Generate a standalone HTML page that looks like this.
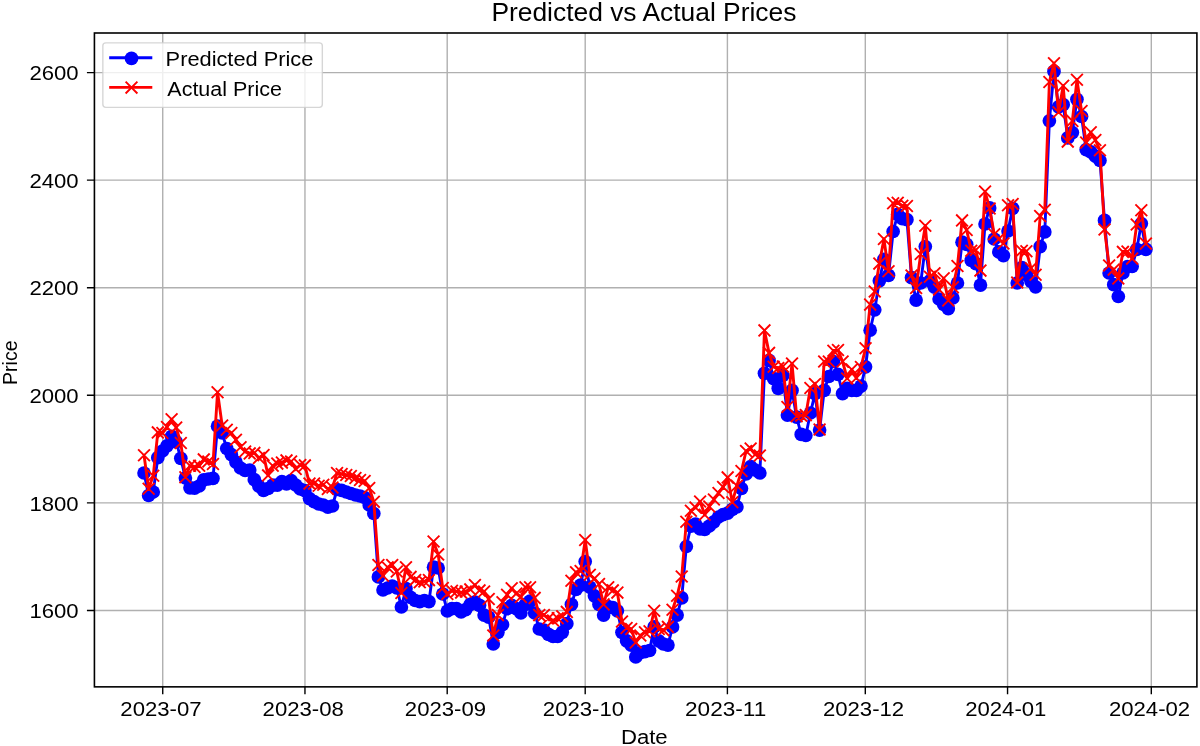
<!DOCTYPE html><html><head><meta charset="utf-8"><style>html,body{margin:0;padding:0;background:#fff;}svg{display:block;will-change:transform;}text{font-family:"Liberation Sans",sans-serif;fill:#000;}</style></head><body>
<svg width="1200" height="746" viewBox="0 0 1200 746">
<rect width="1200" height="746" fill="#fff"/>
<path d="M162.73 33V686.85M304.96 33V686.85M447.2 33V686.85M585.2 33V686.85M727.4 33V686.85M865.3 33V686.85M1007.55 33V686.85M1151.3 33V686.85M94.42 610.46H1196.9M94.42 502.89H1196.9M94.42 395.32H1196.9M94.42 287.74H1196.9M94.42 180.17H1196.9M94.42 72.6H1196.9" stroke="#b0b0b0" stroke-width="1.4" fill="none"/>
<defs><clipPath id="c"><rect x="94.42" y="33" width="1102.48" height="653.85"/></clipPath></defs>
<g clip-path="url(#c)">
<path d="M144.03 473 L148.63 495.5 L153.22 492 L157.82 457.7 L162.41 451 L167.01 445.8 L171.6 436.4 L176.2 441.8 L180.8 458.3 L185.39 478 L189.99 487.8 L194.58 488.2 L199.18 486 L203.77 479.8 L208.37 479 L212.97 478.3 L217.56 426.2 L222.16 433 L226.75 448.5 L231.35 454.7 L235.94 462.1 L240.54 468 L245.14 470.5 L249.73 470 L254.33 479.7 L258.92 486.2 L263.52 490.5 L268.11 488.5 L272.71 485.1 L277.31 485.1 L281.9 481.5 L286.5 484 L291.09 480.6 L295.69 485 L300.28 489 L304.88 490.7 L309.48 498.6 L314.07 501.6 L318.67 504 L323.26 505 L327.86 507.2 L332.45 506 L337.05 489.5 L341.65 490.4 L346.24 492 L350.84 493.5 L355.43 495 L360.03 496 L364.62 497.5 L369.22 505 L373.81 513.5 L378.41 576.9 L383.01 590 L387.6 588 L392.2 586 L396.79 588 L401.39 607 L405.98 588.7 L410.58 597.3 L415.18 600.5 L419.77 601.6 L424.37 600.5 L428.96 601.6 L433.56 567.2 L438.15 568 L442.75 594 L447.35 611 L451.94 608.7 L456.54 608.7 L461.13 611.9 L465.73 609.7 L470.32 604.4 L474.92 602.2 L479.52 605.4 L484.11 615.1 L488.71 617.2 L493.3 644 L497.9 632.3 L502.49 624.7 L507.09 608.7 L511.69 605.4 L516.28 608.7 L520.88 613 L525.47 604.4 L530.07 601.2 L534.66 613 L539.26 629 L543.86 630.1 L548.45 634.4 L553.05 636.5 L557.64 636.5 L562.24 632.3 L566.83 623.7 L571.43 604.4 L576.03 589.4 L580.62 585.1 L585.22 561.5 L589.81 587.2 L594.41 595.8 L599 604.4 L603.6 615.1 L608.2 606.5 L612.79 607.6 L617.39 610.8 L621.98 632.3 L626.58 640.8 L631.17 645.1 L635.77 656.9 L640.37 652.6 L644.96 651.6 L649.56 650.5 L654.15 626.9 L658.75 640.8 L663.34 644 L667.94 645.1 L672.54 626.9 L677.13 615.1 L681.73 597.9 L686.32 546.5 L690.92 526.1 L695.51 524 L700.11 529 L704.71 529.3 L709.3 526 L713.9 521.8 L718.49 517 L723.09 514.6 L727.68 513.2 L732.28 509.4 L736.88 506.8 L741.47 488.5 L746.07 474 L750.66 466.5 L755.26 470 L759.85 473 L764.45 373.3 L769.05 360.4 L773.64 378.6 L778.24 388.3 L782.83 375.4 L787.43 415.1 L792.02 390.4 L796.62 417.2 L801.22 434.4 L805.81 435.5 L810.41 413 L815 393.6 L819.6 430.1 L824.19 390.4 L828.79 376.5 L833.38 361.5 L837.98 374.3 L842.58 393.6 L847.17 388.3 L851.77 390.4 L856.36 390.4 L860.96 386.1 L865.55 366.8 L870.15 330.2 L874.75 309.8 L879.34 280.8 L883.94 259.4 L888.53 275.4 L893.13 231.5 L897.72 214.3 L902.32 218.6 L906.92 219.7 L911.51 277.6 L916.11 300.1 L920.7 283 L925.3 246.5 L929.89 280.8 L934.49 287.2 L939.09 299 L943.68 304.4 L948.28 308.7 L952.87 298 L957.47 283 L962.06 242.2 L966.66 244.3 L971.26 260.4 L975.85 263.6 L980.45 285.1 L985.04 224 L989.64 207.9 L994.23 239 L998.83 251.9 L1003.43 255.6 L1008.02 231 L1012.62 208.3 L1017.21 283 L1021.81 267.6 L1026.4 274.6 L1031 281.5 L1035.6 286.8 L1040.19 246.7 L1044.79 231.9 L1049.38 120.8 L1053.98 71.4 L1058.57 106.8 L1063.17 104.7 L1067.77 137.9 L1072.36 132.6 L1076.96 99.3 L1081.55 116.5 L1086.15 149.7 L1090.74 151.9 L1095.34 156.2 L1099.94 160.5 L1104.53 220.4 L1109.13 273 L1113.72 284.7 L1118.32 296.5 L1122.91 273 L1127.51 266.5 L1132.11 266.5 L1136.7 249.4 L1141.3 223.6 L1145.89 249.4" stroke="#0000ff" stroke-width="2.9" fill="none" stroke-linejoin="round" stroke-linecap="square"/>
<g fill="#0000ff"><circle cx="144.03" cy="473" r="6.85"/><circle cx="148.63" cy="495.5" r="6.85"/><circle cx="153.22" cy="492" r="6.85"/><circle cx="157.82" cy="457.7" r="6.85"/><circle cx="162.41" cy="451" r="6.85"/><circle cx="167.01" cy="445.8" r="6.85"/><circle cx="171.6" cy="436.4" r="6.85"/><circle cx="176.2" cy="441.8" r="6.85"/><circle cx="180.8" cy="458.3" r="6.85"/><circle cx="185.39" cy="478" r="6.85"/><circle cx="189.99" cy="487.8" r="6.85"/><circle cx="194.58" cy="488.2" r="6.85"/><circle cx="199.18" cy="486" r="6.85"/><circle cx="203.77" cy="479.8" r="6.85"/><circle cx="208.37" cy="479" r="6.85"/><circle cx="212.97" cy="478.3" r="6.85"/><circle cx="217.56" cy="426.2" r="6.85"/><circle cx="222.16" cy="433" r="6.85"/><circle cx="226.75" cy="448.5" r="6.85"/><circle cx="231.35" cy="454.7" r="6.85"/><circle cx="235.94" cy="462.1" r="6.85"/><circle cx="240.54" cy="468" r="6.85"/><circle cx="245.14" cy="470.5" r="6.85"/><circle cx="249.73" cy="470" r="6.85"/><circle cx="254.33" cy="479.7" r="6.85"/><circle cx="258.92" cy="486.2" r="6.85"/><circle cx="263.52" cy="490.5" r="6.85"/><circle cx="268.11" cy="488.5" r="6.85"/><circle cx="272.71" cy="485.1" r="6.85"/><circle cx="277.31" cy="485.1" r="6.85"/><circle cx="281.9" cy="481.5" r="6.85"/><circle cx="286.5" cy="484" r="6.85"/><circle cx="291.09" cy="480.6" r="6.85"/><circle cx="295.69" cy="485" r="6.85"/><circle cx="300.28" cy="489" r="6.85"/><circle cx="304.88" cy="490.7" r="6.85"/><circle cx="309.48" cy="498.6" r="6.85"/><circle cx="314.07" cy="501.6" r="6.85"/><circle cx="318.67" cy="504" r="6.85"/><circle cx="323.26" cy="505" r="6.85"/><circle cx="327.86" cy="507.2" r="6.85"/><circle cx="332.45" cy="506" r="6.85"/><circle cx="337.05" cy="489.5" r="6.85"/><circle cx="341.65" cy="490.4" r="6.85"/><circle cx="346.24" cy="492" r="6.85"/><circle cx="350.84" cy="493.5" r="6.85"/><circle cx="355.43" cy="495" r="6.85"/><circle cx="360.03" cy="496" r="6.85"/><circle cx="364.62" cy="497.5" r="6.85"/><circle cx="369.22" cy="505" r="6.85"/><circle cx="373.81" cy="513.5" r="6.85"/><circle cx="378.41" cy="576.9" r="6.85"/><circle cx="383.01" cy="590" r="6.85"/><circle cx="387.6" cy="588" r="6.85"/><circle cx="392.2" cy="586" r="6.85"/><circle cx="396.79" cy="588" r="6.85"/><circle cx="401.39" cy="607" r="6.85"/><circle cx="405.98" cy="588.7" r="6.85"/><circle cx="410.58" cy="597.3" r="6.85"/><circle cx="415.18" cy="600.5" r="6.85"/><circle cx="419.77" cy="601.6" r="6.85"/><circle cx="424.37" cy="600.5" r="6.85"/><circle cx="428.96" cy="601.6" r="6.85"/><circle cx="433.56" cy="567.2" r="6.85"/><circle cx="438.15" cy="568" r="6.85"/><circle cx="442.75" cy="594" r="6.85"/><circle cx="447.35" cy="611" r="6.85"/><circle cx="451.94" cy="608.7" r="6.85"/><circle cx="456.54" cy="608.7" r="6.85"/><circle cx="461.13" cy="611.9" r="6.85"/><circle cx="465.73" cy="609.7" r="6.85"/><circle cx="470.32" cy="604.4" r="6.85"/><circle cx="474.92" cy="602.2" r="6.85"/><circle cx="479.52" cy="605.4" r="6.85"/><circle cx="484.11" cy="615.1" r="6.85"/><circle cx="488.71" cy="617.2" r="6.85"/><circle cx="493.3" cy="644" r="6.85"/><circle cx="497.9" cy="632.3" r="6.85"/><circle cx="502.49" cy="624.7" r="6.85"/><circle cx="507.09" cy="608.7" r="6.85"/><circle cx="511.69" cy="605.4" r="6.85"/><circle cx="516.28" cy="608.7" r="6.85"/><circle cx="520.88" cy="613" r="6.85"/><circle cx="525.47" cy="604.4" r="6.85"/><circle cx="530.07" cy="601.2" r="6.85"/><circle cx="534.66" cy="613" r="6.85"/><circle cx="539.26" cy="629" r="6.85"/><circle cx="543.86" cy="630.1" r="6.85"/><circle cx="548.45" cy="634.4" r="6.85"/><circle cx="553.05" cy="636.5" r="6.85"/><circle cx="557.64" cy="636.5" r="6.85"/><circle cx="562.24" cy="632.3" r="6.85"/><circle cx="566.83" cy="623.7" r="6.85"/><circle cx="571.43" cy="604.4" r="6.85"/><circle cx="576.03" cy="589.4" r="6.85"/><circle cx="580.62" cy="585.1" r="6.85"/><circle cx="585.22" cy="561.5" r="6.85"/><circle cx="589.81" cy="587.2" r="6.85"/><circle cx="594.41" cy="595.8" r="6.85"/><circle cx="599" cy="604.4" r="6.85"/><circle cx="603.6" cy="615.1" r="6.85"/><circle cx="608.2" cy="606.5" r="6.85"/><circle cx="612.79" cy="607.6" r="6.85"/><circle cx="617.39" cy="610.8" r="6.85"/><circle cx="621.98" cy="632.3" r="6.85"/><circle cx="626.58" cy="640.8" r="6.85"/><circle cx="631.17" cy="645.1" r="6.85"/><circle cx="635.77" cy="656.9" r="6.85"/><circle cx="640.37" cy="652.6" r="6.85"/><circle cx="644.96" cy="651.6" r="6.85"/><circle cx="649.56" cy="650.5" r="6.85"/><circle cx="654.15" cy="626.9" r="6.85"/><circle cx="658.75" cy="640.8" r="6.85"/><circle cx="663.34" cy="644" r="6.85"/><circle cx="667.94" cy="645.1" r="6.85"/><circle cx="672.54" cy="626.9" r="6.85"/><circle cx="677.13" cy="615.1" r="6.85"/><circle cx="681.73" cy="597.9" r="6.85"/><circle cx="686.32" cy="546.5" r="6.85"/><circle cx="690.92" cy="526.1" r="6.85"/><circle cx="695.51" cy="524" r="6.85"/><circle cx="700.11" cy="529" r="6.85"/><circle cx="704.71" cy="529.3" r="6.85"/><circle cx="709.3" cy="526" r="6.85"/><circle cx="713.9" cy="521.8" r="6.85"/><circle cx="718.49" cy="517" r="6.85"/><circle cx="723.09" cy="514.6" r="6.85"/><circle cx="727.68" cy="513.2" r="6.85"/><circle cx="732.28" cy="509.4" r="6.85"/><circle cx="736.88" cy="506.8" r="6.85"/><circle cx="741.47" cy="488.5" r="6.85"/><circle cx="746.07" cy="474" r="6.85"/><circle cx="750.66" cy="466.5" r="6.85"/><circle cx="755.26" cy="470" r="6.85"/><circle cx="759.85" cy="473" r="6.85"/><circle cx="764.45" cy="373.3" r="6.85"/><circle cx="769.05" cy="360.4" r="6.85"/><circle cx="773.64" cy="378.6" r="6.85"/><circle cx="778.24" cy="388.3" r="6.85"/><circle cx="782.83" cy="375.4" r="6.85"/><circle cx="787.43" cy="415.1" r="6.85"/><circle cx="792.02" cy="390.4" r="6.85"/><circle cx="796.62" cy="417.2" r="6.85"/><circle cx="801.22" cy="434.4" r="6.85"/><circle cx="805.81" cy="435.5" r="6.85"/><circle cx="810.41" cy="413" r="6.85"/><circle cx="815" cy="393.6" r="6.85"/><circle cx="819.6" cy="430.1" r="6.85"/><circle cx="824.19" cy="390.4" r="6.85"/><circle cx="828.79" cy="376.5" r="6.85"/><circle cx="833.38" cy="361.5" r="6.85"/><circle cx="837.98" cy="374.3" r="6.85"/><circle cx="842.58" cy="393.6" r="6.85"/><circle cx="847.17" cy="388.3" r="6.85"/><circle cx="851.77" cy="390.4" r="6.85"/><circle cx="856.36" cy="390.4" r="6.85"/><circle cx="860.96" cy="386.1" r="6.85"/><circle cx="865.55" cy="366.8" r="6.85"/><circle cx="870.15" cy="330.2" r="6.85"/><circle cx="874.75" cy="309.8" r="6.85"/><circle cx="879.34" cy="280.8" r="6.85"/><circle cx="883.94" cy="259.4" r="6.85"/><circle cx="888.53" cy="275.4" r="6.85"/><circle cx="893.13" cy="231.5" r="6.85"/><circle cx="897.72" cy="214.3" r="6.85"/><circle cx="902.32" cy="218.6" r="6.85"/><circle cx="906.92" cy="219.7" r="6.85"/><circle cx="911.51" cy="277.6" r="6.85"/><circle cx="916.11" cy="300.1" r="6.85"/><circle cx="920.7" cy="283" r="6.85"/><circle cx="925.3" cy="246.5" r="6.85"/><circle cx="929.89" cy="280.8" r="6.85"/><circle cx="934.49" cy="287.2" r="6.85"/><circle cx="939.09" cy="299" r="6.85"/><circle cx="943.68" cy="304.4" r="6.85"/><circle cx="948.28" cy="308.7" r="6.85"/><circle cx="952.87" cy="298" r="6.85"/><circle cx="957.47" cy="283" r="6.85"/><circle cx="962.06" cy="242.2" r="6.85"/><circle cx="966.66" cy="244.3" r="6.85"/><circle cx="971.26" cy="260.4" r="6.85"/><circle cx="975.85" cy="263.6" r="6.85"/><circle cx="980.45" cy="285.1" r="6.85"/><circle cx="985.04" cy="224" r="6.85"/><circle cx="989.64" cy="207.9" r="6.85"/><circle cx="994.23" cy="239" r="6.85"/><circle cx="998.83" cy="251.9" r="6.85"/><circle cx="1003.43" cy="255.6" r="6.85"/><circle cx="1008.02" cy="231" r="6.85"/><circle cx="1012.62" cy="208.3" r="6.85"/><circle cx="1017.21" cy="283" r="6.85"/><circle cx="1021.81" cy="267.6" r="6.85"/><circle cx="1026.4" cy="274.6" r="6.85"/><circle cx="1031" cy="281.5" r="6.85"/><circle cx="1035.6" cy="286.8" r="6.85"/><circle cx="1040.19" cy="246.7" r="6.85"/><circle cx="1044.79" cy="231.9" r="6.85"/><circle cx="1049.38" cy="120.8" r="6.85"/><circle cx="1053.98" cy="71.4" r="6.85"/><circle cx="1058.57" cy="106.8" r="6.85"/><circle cx="1063.17" cy="104.7" r="6.85"/><circle cx="1067.77" cy="137.9" r="6.85"/><circle cx="1072.36" cy="132.6" r="6.85"/><circle cx="1076.96" cy="99.3" r="6.85"/><circle cx="1081.55" cy="116.5" r="6.85"/><circle cx="1086.15" cy="149.7" r="6.85"/><circle cx="1090.74" cy="151.9" r="6.85"/><circle cx="1095.34" cy="156.2" r="6.85"/><circle cx="1099.94" cy="160.5" r="6.85"/><circle cx="1104.53" cy="220.4" r="6.85"/><circle cx="1109.13" cy="273" r="6.85"/><circle cx="1113.72" cy="284.7" r="6.85"/><circle cx="1118.32" cy="296.5" r="6.85"/><circle cx="1122.91" cy="273" r="6.85"/><circle cx="1127.51" cy="266.5" r="6.85"/><circle cx="1132.11" cy="266.5" r="6.85"/><circle cx="1136.7" cy="249.4" r="6.85"/><circle cx="1141.3" cy="223.6" r="6.85"/><circle cx="1145.89" cy="249.4" r="6.85"/></g>
<path d="M144.03 455.3 L148.63 488.7 L153.22 475.8 L157.82 432.4 L162.41 433 L167.01 427 L171.6 419.3 L176.2 427.6 L180.8 443 L185.39 477.3 L189.99 465.8 L194.58 466.9 L199.18 465.8 L203.77 459.4 L208.37 461.5 L212.97 464 L217.56 392.2 L222.16 425.5 L226.75 429.8 L231.35 433 L235.94 439.8 L240.54 447.3 L245.14 451.5 L249.73 453.4 L254.33 452.9 L258.92 458 L263.52 455.1 L268.11 475.4 L272.71 465.8 L277.31 463.6 L281.9 462.6 L286.5 460.4 L291.09 461.5 L295.69 469 L300.28 465 L304.88 465.4 L309.48 483.6 L314.07 483.6 L318.67 485.7 L323.26 484.7 L327.86 489 L332.45 487.5 L337.05 473 L341.65 474 L346.24 475 L350.84 476 L355.43 478 L360.03 480 L364.62 481 L369.22 488 L373.81 501.8 L378.41 565 L383.01 575.8 L387.6 567.2 L392.2 565.1 L396.79 571.5 L401.39 593 L405.98 567.2 L410.58 576.9 L415.18 580.1 L419.77 582.3 L424.37 581.5 L428.96 580.1 L433.56 541.5 L438.15 554.4 L442.75 588 L447.35 594 L451.94 590.7 L456.54 591.5 L461.13 592.6 L465.73 591.5 L470.32 589.4 L474.92 585.1 L479.52 590.4 L484.11 591.5 L488.71 599 L493.3 635.5 L497.9 615.1 L502.49 602.2 L507.09 594.7 L511.69 588.3 L516.28 593.6 L520.88 596.9 L525.47 587.2 L530.07 587.2 L534.66 597.9 L539.26 615.1 L543.86 615.1 L548.45 618.3 L553.05 620.5 L557.64 618.3 L562.24 616.2 L566.83 611.9 L571.43 580.8 L576.03 572.2 L580.62 571.1 L585.22 540 L589.81 574.8 L594.41 578.6 L599 584 L603.6 604.4 L608.2 587.2 L612.79 590.4 L617.39 592.6 L621.98 621.5 L626.58 628 L631.17 629 L635.77 642.5 L640.37 635.5 L644.96 632.3 L649.56 631.2 L654.15 610.8 L658.75 629 L663.34 630.1 L667.94 626.9 L672.54 609.7 L677.13 595.8 L681.73 576.5 L686.32 521.8 L690.92 510.8 L695.51 507.5 L700.11 501.5 L704.71 514.7 L709.3 506.5 L713.9 499.5 L718.49 493 L723.09 487 L727.68 477.4 L732.28 502.3 L736.88 485.7 L741.47 471 L746.07 451 L750.66 448.6 L755.26 454.5 L759.85 455.5 L764.45 330.4 L769.05 352.9 L773.64 366.8 L778.24 368 L782.83 366.5 L787.43 407 L792.02 363.5 L796.62 416.2 L801.22 415.6 L805.81 415.1 L810.41 388 L815 384 L819.6 429.5 L824.19 361.5 L828.79 361.5 L833.38 350.7 L837.98 350 L842.58 361.5 L847.17 378.5 L851.77 369.5 L856.36 378 L860.96 367 L865.55 348.3 L870.15 304.6 L874.75 291.5 L879.34 263.6 L883.94 239 L888.53 271.2 L893.13 203.2 L897.72 202.8 L902.32 205.7 L906.92 206 L911.51 275.5 L916.11 288 L920.7 254 L925.3 225.8 L929.89 276.8 L934.49 273.3 L939.09 289.6 L943.68 278.3 L948.28 300.4 L952.87 287.2 L957.47 266 L962.06 220.4 L966.66 230 L971.26 250.7 L975.85 250 L980.45 270.6 L985.04 191.6 L989.64 208.5 L994.23 234.3 L998.83 238.9 L1003.43 243.5 L1008.02 205.3 L1012.62 204 L1017.21 282.5 L1021.81 250.8 L1026.4 251.2 L1031 268.2 L1035.6 274.8 L1040.19 216.1 L1044.79 209.8 L1049.38 82 L1053.98 63.2 L1058.57 112.3 L1063.17 85.7 L1067.77 141.6 L1072.36 120.9 L1076.96 79.8 L1081.55 111 L1086.15 142.6 L1090.74 132.2 L1095.34 140 L1099.94 150.2 L1104.53 229.5 L1109.13 265.5 L1113.72 269.6 L1118.32 278.4 L1122.91 251.9 L1127.51 251.6 L1132.11 258.6 L1136.7 224.5 L1141.3 210.3 L1145.89 243.6" stroke="#ff0000" stroke-width="2.9" fill="none" stroke-linejoin="round" stroke-linecap="square"/>
<path d="M138.13 449.4l11.8 11.8M138.13 461.2l11.8 -11.8M142.73 482.8l11.8 11.8M142.73 494.6l11.8 -11.8M147.32 469.9l11.8 11.8M147.32 481.7l11.8 -11.8M151.92 426.5l11.8 11.8M151.92 438.3l11.8 -11.8M156.51 427.1l11.8 11.8M156.51 438.9l11.8 -11.8M161.11 421.1l11.8 11.8M161.11 432.9l11.8 -11.8M165.7 413.4l11.8 11.8M165.7 425.2l11.8 -11.8M170.3 421.7l11.8 11.8M170.3 433.5l11.8 -11.8M174.9 437.1l11.8 11.8M174.9 448.9l11.8 -11.8M179.49 471.4l11.8 11.8M179.49 483.2l11.8 -11.8M184.09 459.9l11.8 11.8M184.09 471.7l11.8 -11.8M188.68 461l11.8 11.8M188.68 472.8l11.8 -11.8M193.28 459.9l11.8 11.8M193.28 471.7l11.8 -11.8M197.87 453.5l11.8 11.8M197.87 465.3l11.8 -11.8M202.47 455.6l11.8 11.8M202.47 467.4l11.8 -11.8M207.07 458.1l11.8 11.8M207.07 469.9l11.8 -11.8M211.66 386.3l11.8 11.8M211.66 398.1l11.8 -11.8M216.26 419.6l11.8 11.8M216.26 431.4l11.8 -11.8M220.85 423.9l11.8 11.8M220.85 435.7l11.8 -11.8M225.45 427.1l11.8 11.8M225.45 438.9l11.8 -11.8M230.04 433.9l11.8 11.8M230.04 445.7l11.8 -11.8M234.64 441.4l11.8 11.8M234.64 453.2l11.8 -11.8M239.24 445.6l11.8 11.8M239.24 457.4l11.8 -11.8M243.83 447.5l11.8 11.8M243.83 459.3l11.8 -11.8M248.43 447l11.8 11.8M248.43 458.8l11.8 -11.8M253.02 452.1l11.8 11.8M253.02 463.9l11.8 -11.8M257.62 449.2l11.8 11.8M257.62 461l11.8 -11.8M262.21 469.5l11.8 11.8M262.21 481.3l11.8 -11.8M266.81 459.9l11.8 11.8M266.81 471.7l11.8 -11.8M271.41 457.7l11.8 11.8M271.41 469.5l11.8 -11.8M276 456.7l11.8 11.8M276 468.5l11.8 -11.8M280.6 454.5l11.8 11.8M280.6 466.3l11.8 -11.8M285.19 455.6l11.8 11.8M285.19 467.4l11.8 -11.8M289.79 463.1l11.8 11.8M289.79 474.9l11.8 -11.8M294.38 459.1l11.8 11.8M294.38 470.9l11.8 -11.8M298.98 459.5l11.8 11.8M298.98 471.3l11.8 -11.8M303.58 477.7l11.8 11.8M303.58 489.5l11.8 -11.8M308.17 477.7l11.8 11.8M308.17 489.5l11.8 -11.8M312.77 479.8l11.8 11.8M312.77 491.6l11.8 -11.8M317.36 478.8l11.8 11.8M317.36 490.6l11.8 -11.8M321.96 483.1l11.8 11.8M321.96 494.9l11.8 -11.8M326.55 481.6l11.8 11.8M326.55 493.4l11.8 -11.8M331.15 467.1l11.8 11.8M331.15 478.9l11.8 -11.8M335.75 468.1l11.8 11.8M335.75 479.9l11.8 -11.8M340.34 469.1l11.8 11.8M340.34 480.9l11.8 -11.8M344.94 470.1l11.8 11.8M344.94 481.9l11.8 -11.8M349.53 472.1l11.8 11.8M349.53 483.9l11.8 -11.8M354.13 474.1l11.8 11.8M354.13 485.9l11.8 -11.8M358.72 475.1l11.8 11.8M358.72 486.9l11.8 -11.8M363.32 482.1l11.8 11.8M363.32 493.9l11.8 -11.8M367.92 495.9l11.8 11.8M367.92 507.7l11.8 -11.8M372.51 559.1l11.8 11.8M372.51 570.9l11.8 -11.8M377.11 569.9l11.8 11.8M377.11 581.7l11.8 -11.8M381.7 561.3l11.8 11.8M381.7 573.1l11.8 -11.8M386.3 559.2l11.8 11.8M386.3 571l11.8 -11.8M390.89 565.6l11.8 11.8M390.89 577.4l11.8 -11.8M395.49 587.1l11.8 11.8M395.49 598.9l11.8 -11.8M400.08 561.3l11.8 11.8M400.08 573.1l11.8 -11.8M404.68 571l11.8 11.8M404.68 582.8l11.8 -11.8M409.28 574.2l11.8 11.8M409.28 586l11.8 -11.8M413.87 576.4l11.8 11.8M413.87 588.2l11.8 -11.8M418.47 575.6l11.8 11.8M418.47 587.4l11.8 -11.8M423.06 574.2l11.8 11.8M423.06 586l11.8 -11.8M427.66 535.6l11.8 11.8M427.66 547.4l11.8 -11.8M432.25 548.5l11.8 11.8M432.25 560.3l11.8 -11.8M436.85 582.1l11.8 11.8M436.85 593.9l11.8 -11.8M441.45 588.1l11.8 11.8M441.45 599.9l11.8 -11.8M446.04 584.8l11.8 11.8M446.04 596.6l11.8 -11.8M450.64 585.6l11.8 11.8M450.64 597.4l11.8 -11.8M455.23 586.7l11.8 11.8M455.23 598.5l11.8 -11.8M459.83 585.6l11.8 11.8M459.83 597.4l11.8 -11.8M464.42 583.5l11.8 11.8M464.42 595.3l11.8 -11.8M469.02 579.2l11.8 11.8M469.02 591l11.8 -11.8M473.62 584.5l11.8 11.8M473.62 596.3l11.8 -11.8M478.21 585.6l11.8 11.8M478.21 597.4l11.8 -11.8M482.81 593.1l11.8 11.8M482.81 604.9l11.8 -11.8M487.4 629.6l11.8 11.8M487.4 641.4l11.8 -11.8M492 609.2l11.8 11.8M492 621l11.8 -11.8M496.59 596.3l11.8 11.8M496.59 608.1l11.8 -11.8M501.19 588.8l11.8 11.8M501.19 600.6l11.8 -11.8M505.79 582.4l11.8 11.8M505.79 594.2l11.8 -11.8M510.38 587.7l11.8 11.8M510.38 599.5l11.8 -11.8M514.98 591l11.8 11.8M514.98 602.8l11.8 -11.8M519.57 581.3l11.8 11.8M519.57 593.1l11.8 -11.8M524.17 581.3l11.8 11.8M524.17 593.1l11.8 -11.8M528.76 592l11.8 11.8M528.76 603.8l11.8 -11.8M533.36 609.2l11.8 11.8M533.36 621l11.8 -11.8M537.96 609.2l11.8 11.8M537.96 621l11.8 -11.8M542.55 612.4l11.8 11.8M542.55 624.2l11.8 -11.8M547.15 614.6l11.8 11.8M547.15 626.4l11.8 -11.8M551.74 612.4l11.8 11.8M551.74 624.2l11.8 -11.8M556.34 610.3l11.8 11.8M556.34 622.1l11.8 -11.8M560.93 606l11.8 11.8M560.93 617.8l11.8 -11.8M565.53 574.9l11.8 11.8M565.53 586.7l11.8 -11.8M570.13 566.3l11.8 11.8M570.13 578.1l11.8 -11.8M574.72 565.2l11.8 11.8M574.72 577l11.8 -11.8M579.32 534.1l11.8 11.8M579.32 545.9l11.8 -11.8M583.91 568.9l11.8 11.8M583.91 580.7l11.8 -11.8M588.51 572.7l11.8 11.8M588.51 584.5l11.8 -11.8M593.1 578.1l11.8 11.8M593.1 589.9l11.8 -11.8M597.7 598.5l11.8 11.8M597.7 610.3l11.8 -11.8M602.3 581.3l11.8 11.8M602.3 593.1l11.8 -11.8M606.89 584.5l11.8 11.8M606.89 596.3l11.8 -11.8M611.49 586.7l11.8 11.8M611.49 598.5l11.8 -11.8M616.08 615.6l11.8 11.8M616.08 627.4l11.8 -11.8M620.68 622.1l11.8 11.8M620.68 633.9l11.8 -11.8M625.27 623.1l11.8 11.8M625.27 634.9l11.8 -11.8M629.87 636.6l11.8 11.8M629.87 648.4l11.8 -11.8M634.47 629.6l11.8 11.8M634.47 641.4l11.8 -11.8M639.06 626.4l11.8 11.8M639.06 638.2l11.8 -11.8M643.66 625.3l11.8 11.8M643.66 637.1l11.8 -11.8M648.25 604.9l11.8 11.8M648.25 616.7l11.8 -11.8M652.85 623.1l11.8 11.8M652.85 634.9l11.8 -11.8M657.44 624.2l11.8 11.8M657.44 636l11.8 -11.8M662.04 621l11.8 11.8M662.04 632.8l11.8 -11.8M666.64 603.8l11.8 11.8M666.64 615.6l11.8 -11.8M671.23 589.9l11.8 11.8M671.23 601.7l11.8 -11.8M675.83 570.6l11.8 11.8M675.83 582.4l11.8 -11.8M680.42 515.9l11.8 11.8M680.42 527.7l11.8 -11.8M685.02 504.9l11.8 11.8M685.02 516.7l11.8 -11.8M689.61 501.6l11.8 11.8M689.61 513.4l11.8 -11.8M694.21 495.6l11.8 11.8M694.21 507.4l11.8 -11.8M698.81 508.8l11.8 11.8M698.81 520.6l11.8 -11.8M703.4 500.6l11.8 11.8M703.4 512.4l11.8 -11.8M708 493.6l11.8 11.8M708 505.4l11.8 -11.8M712.59 487.1l11.8 11.8M712.59 498.9l11.8 -11.8M717.19 481.1l11.8 11.8M717.19 492.9l11.8 -11.8M721.78 471.5l11.8 11.8M721.78 483.3l11.8 -11.8M726.38 496.4l11.8 11.8M726.38 508.2l11.8 -11.8M730.98 479.8l11.8 11.8M730.98 491.6l11.8 -11.8M735.57 465.1l11.8 11.8M735.57 476.9l11.8 -11.8M740.17 445.1l11.8 11.8M740.17 456.9l11.8 -11.8M744.76 442.7l11.8 11.8M744.76 454.5l11.8 -11.8M749.36 448.6l11.8 11.8M749.36 460.4l11.8 -11.8M753.95 449.6l11.8 11.8M753.95 461.4l11.8 -11.8M758.55 324.5l11.8 11.8M758.55 336.3l11.8 -11.8M763.15 347l11.8 11.8M763.15 358.8l11.8 -11.8M767.74 360.9l11.8 11.8M767.74 372.7l11.8 -11.8M772.34 362.1l11.8 11.8M772.34 373.9l11.8 -11.8M776.93 360.6l11.8 11.8M776.93 372.4l11.8 -11.8M781.53 401.1l11.8 11.8M781.53 412.9l11.8 -11.8M786.12 357.6l11.8 11.8M786.12 369.4l11.8 -11.8M790.72 410.3l11.8 11.8M790.72 422.1l11.8 -11.8M795.32 409.7l11.8 11.8M795.32 421.5l11.8 -11.8M799.91 409.2l11.8 11.8M799.91 421l11.8 -11.8M804.51 382.1l11.8 11.8M804.51 393.9l11.8 -11.8M809.1 378.1l11.8 11.8M809.1 389.9l11.8 -11.8M813.7 423.6l11.8 11.8M813.7 435.4l11.8 -11.8M818.29 355.6l11.8 11.8M818.29 367.4l11.8 -11.8M822.89 355.6l11.8 11.8M822.89 367.4l11.8 -11.8M827.49 344.8l11.8 11.8M827.49 356.6l11.8 -11.8M832.08 344.1l11.8 11.8M832.08 355.9l11.8 -11.8M836.68 355.6l11.8 11.8M836.68 367.4l11.8 -11.8M841.27 372.6l11.8 11.8M841.27 384.4l11.8 -11.8M845.87 363.6l11.8 11.8M845.87 375.4l11.8 -11.8M850.46 372.1l11.8 11.8M850.46 383.9l11.8 -11.8M855.06 361.1l11.8 11.8M855.06 372.9l11.8 -11.8M859.65 342.4l11.8 11.8M859.65 354.2l11.8 -11.8M864.25 298.7l11.8 11.8M864.25 310.5l11.8 -11.8M868.85 285.6l11.8 11.8M868.85 297.4l11.8 -11.8M873.44 257.7l11.8 11.8M873.44 269.5l11.8 -11.8M878.04 233.1l11.8 11.8M878.04 244.9l11.8 -11.8M882.63 265.3l11.8 11.8M882.63 277.1l11.8 -11.8M887.23 197.3l11.8 11.8M887.23 209.1l11.8 -11.8M891.82 196.9l11.8 11.8M891.82 208.7l11.8 -11.8M896.42 199.8l11.8 11.8M896.42 211.6l11.8 -11.8M901.02 200.1l11.8 11.8M901.02 211.9l11.8 -11.8M905.61 269.6l11.8 11.8M905.61 281.4l11.8 -11.8M910.21 282.1l11.8 11.8M910.21 293.9l11.8 -11.8M914.8 248.1l11.8 11.8M914.8 259.9l11.8 -11.8M919.4 219.9l11.8 11.8M919.4 231.7l11.8 -11.8M923.99 270.9l11.8 11.8M923.99 282.7l11.8 -11.8M928.59 267.4l11.8 11.8M928.59 279.2l11.8 -11.8M933.19 283.7l11.8 11.8M933.19 295.5l11.8 -11.8M937.78 272.4l11.8 11.8M937.78 284.2l11.8 -11.8M942.38 294.5l11.8 11.8M942.38 306.3l11.8 -11.8M946.97 281.3l11.8 11.8M946.97 293.1l11.8 -11.8M951.57 260.1l11.8 11.8M951.57 271.9l11.8 -11.8M956.16 214.5l11.8 11.8M956.16 226.3l11.8 -11.8M960.76 224.1l11.8 11.8M960.76 235.9l11.8 -11.8M965.36 244.8l11.8 11.8M965.36 256.6l11.8 -11.8M969.95 244.1l11.8 11.8M969.95 255.9l11.8 -11.8M974.55 264.7l11.8 11.8M974.55 276.5l11.8 -11.8M979.14 185.7l11.8 11.8M979.14 197.5l11.8 -11.8M983.74 202.6l11.8 11.8M983.74 214.4l11.8 -11.8M988.33 228.4l11.8 11.8M988.33 240.2l11.8 -11.8M992.93 233l11.8 11.8M992.93 244.8l11.8 -11.8M997.53 237.6l11.8 11.8M997.53 249.4l11.8 -11.8M1002.12 199.4l11.8 11.8M1002.12 211.2l11.8 -11.8M1006.72 198.1l11.8 11.8M1006.72 209.9l11.8 -11.8M1011.31 276.6l11.8 11.8M1011.31 288.4l11.8 -11.8M1015.91 244.9l11.8 11.8M1015.91 256.7l11.8 -11.8M1020.5 245.3l11.8 11.8M1020.5 257.1l11.8 -11.8M1025.1 262.3l11.8 11.8M1025.1 274.1l11.8 -11.8M1029.7 268.9l11.8 11.8M1029.7 280.7l11.8 -11.8M1034.29 210.2l11.8 11.8M1034.29 222l11.8 -11.8M1038.89 203.9l11.8 11.8M1038.89 215.7l11.8 -11.8M1043.48 76.1l11.8 11.8M1043.48 87.9l11.8 -11.8M1048.08 57.3l11.8 11.8M1048.08 69.1l11.8 -11.8M1052.67 106.4l11.8 11.8M1052.67 118.2l11.8 -11.8M1057.27 79.8l11.8 11.8M1057.27 91.6l11.8 -11.8M1061.87 135.7l11.8 11.8M1061.87 147.5l11.8 -11.8M1066.46 115l11.8 11.8M1066.46 126.8l11.8 -11.8M1071.06 73.9l11.8 11.8M1071.06 85.7l11.8 -11.8M1075.65 105.1l11.8 11.8M1075.65 116.9l11.8 -11.8M1080.25 136.7l11.8 11.8M1080.25 148.5l11.8 -11.8M1084.84 126.3l11.8 11.8M1084.84 138.1l11.8 -11.8M1089.44 134.1l11.8 11.8M1089.44 145.9l11.8 -11.8M1094.04 144.3l11.8 11.8M1094.04 156.1l11.8 -11.8M1098.63 223.6l11.8 11.8M1098.63 235.4l11.8 -11.8M1103.23 259.6l11.8 11.8M1103.23 271.4l11.8 -11.8M1107.82 263.7l11.8 11.8M1107.82 275.5l11.8 -11.8M1112.42 272.5l11.8 11.8M1112.42 284.3l11.8 -11.8M1117.01 246l11.8 11.8M1117.01 257.8l11.8 -11.8M1121.61 245.7l11.8 11.8M1121.61 257.5l11.8 -11.8M1126.21 252.7l11.8 11.8M1126.21 264.5l11.8 -11.8M1130.8 218.6l11.8 11.8M1130.8 230.4l11.8 -11.8M1135.4 204.4l11.8 11.8M1135.4 216.2l11.8 -11.8M1139.99 237.7l11.8 11.8M1139.99 249.5l11.8 -11.8" stroke="#ff0000" stroke-width="1.9" fill="none"/>
</g>
<rect x="94.42" y="33" width="1102.48" height="653.85" fill="none" stroke="#000" stroke-width="1.6" stroke-linejoin="miter"/>
<path d="M162.73 686.85v7.5M304.96 686.85v7.5M447.2 686.85v7.5M585.2 686.85v7.5M727.4 686.85v7.5M865.3 686.85v7.5M1007.55 686.85v7.5M1151.3 686.85v7.5M94.42 610.46h-7.5M94.42 502.89h-7.5M94.42 395.32h-7.5M94.42 287.74h-7.5M94.42 180.17h-7.5M94.42 72.6h-7.5" stroke="#000" stroke-width="1.4" fill="none"/>
<text x="78.6" y="618.16" font-size="20" textLength="49.2" lengthAdjust="spacingAndGlyphs" text-anchor="end">1600</text>
<text x="78.6" y="510.59" font-size="20" textLength="49.2" lengthAdjust="spacingAndGlyphs" text-anchor="end">1800</text>
<text x="78.6" y="403.02" font-size="20" textLength="49.2" lengthAdjust="spacingAndGlyphs" text-anchor="end">2000</text>
<text x="78.6" y="295.44" font-size="20" textLength="49.2" lengthAdjust="spacingAndGlyphs" text-anchor="end">2200</text>
<text x="78.6" y="187.87" font-size="20" textLength="49.2" lengthAdjust="spacingAndGlyphs" text-anchor="end">2400</text>
<text x="78.6" y="80.3" font-size="20" textLength="49.2" lengthAdjust="spacingAndGlyphs" text-anchor="end">2600</text>
<text x="120.38" y="715.8" font-size="20" textLength="81.2" lengthAdjust="spacingAndGlyphs">2023-07</text>
<text x="262.61" y="715.8" font-size="20" textLength="81.2" lengthAdjust="spacingAndGlyphs">2023-08</text>
<text x="404.85" y="715.8" font-size="20" textLength="81.2" lengthAdjust="spacingAndGlyphs">2023-09</text>
<text x="542.85" y="715.8" font-size="20" textLength="81.2" lengthAdjust="spacingAndGlyphs">2023-10</text>
<text x="685.05" y="715.8" font-size="20" textLength="81.2" lengthAdjust="spacingAndGlyphs">2023-11</text>
<text x="822.95" y="715.8" font-size="20" textLength="81.2" lengthAdjust="spacingAndGlyphs">2023-12</text>
<text x="965.2" y="715.8" font-size="20" textLength="81.2" lengthAdjust="spacingAndGlyphs">2024-01</text>
<text x="1108.95" y="715.8" font-size="20" textLength="81.2" lengthAdjust="spacingAndGlyphs">2024-02</text>
<text x="491.4" y="20.9" font-size="25.6" textLength="305" lengthAdjust="spacingAndGlyphs">Predicted vs Actual Prices</text>
<text x="620.9" y="743.6" font-size="19.6" textLength="46.8" lengthAdjust="spacingAndGlyphs">Date</text>
<text transform="translate(17 384.9) rotate(-90)" x="0" y="0" font-size="19.6" textLength="44.4" lengthAdjust="spacingAndGlyphs">Price</text>
<rect x="102.84" y="42.84" width="219.5" height="64.5" rx="3" ry="3" fill="#fff" fill-opacity="0.8" stroke="#cccccc" stroke-opacity="0.8" stroke-width="1.4"/>
<path d="M109.2 57.7H152.3" stroke="#0000ff" stroke-width="2.9"/>
<circle cx="131.5" cy="58.4" r="6.85" fill="#0000ff"/>
<path d="M109.2 87.4H152.3" stroke="#ff0000" stroke-width="2.9"/>
<path d="M125.6 81.7l11.8 11.8M125.6 93.5l11.8 -11.8" stroke="#ff0000" stroke-width="1.9" fill="none"/>
<text x="165.6" y="66" font-size="19.6" textLength="147.8" lengthAdjust="spacingAndGlyphs">Predicted Price</text>
<text x="167.3" y="95.9" font-size="19.6" textLength="114.7" lengthAdjust="spacingAndGlyphs">Actual Price</text>
</svg></body></html>
